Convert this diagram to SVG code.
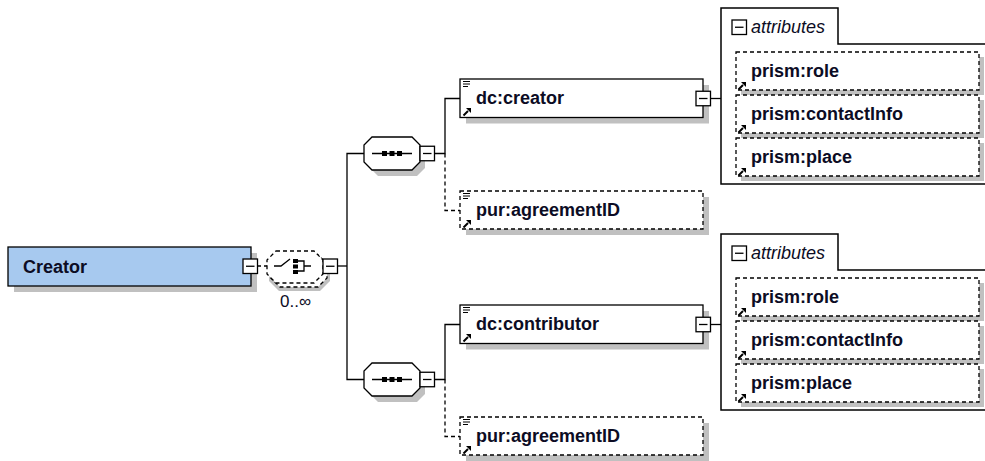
<svg xmlns="http://www.w3.org/2000/svg" xmlns:xlink="http://www.w3.org/1999/xlink" width="985" height="461" viewBox="0 0 985 461">
  <style>
    .lbl { font-family: "Liberation Sans", Arial, sans-serif; font-size: 18px; font-weight: bold; fill: #0c0c24; }
    .ital { font-family: "Liberation Sans", Arial, sans-serif; font-size: 18px; font-style: italic; fill: #0c0c24; }
    .occ { font-family: "Liberation Sans", Arial, sans-serif; font-size: 17px; fill: #0c0c24; }
    .box { fill: #ffffff; stroke: #000000; stroke-width: 1.3; }
    .opt { fill: #ffffff; stroke: #000000; stroke-width: 1.3; stroke-dasharray: 4 3; }
    .shadow { fill: #c0c0c0; stroke: none; }
    .wire { fill: none; stroke: #000000; stroke-width: 1.3; }
    .wire-opt { fill: none; stroke: #000000; stroke-width: 1.3; stroke-dasharray: 4 3; }
    .cont { fill: #ffffff; stroke: #000000; stroke-width: 1.5; }
  </style>
  <defs>
    <!-- collapse toggle -->
    <g id="minus">
      <rect x="0" y="0" width="14.5" height="14.5" fill="#ffffff" stroke="#000000" stroke-width="1.3"/>
      <line x1="3" y1="7.25" x2="11.5" y2="7.25" stroke="#000000" stroke-width="1.3"/>
    </g>
    <!-- reference arrow -->
    <g id="ref">
      <line x1="0.5" y1="7.5" x2="5" y2="3" stroke="#000000" stroke-width="2"/>
      <polygon points="3,0 8,0 8,5" fill="#000000"/>
    </g>
    <!-- annotation mark -->
    <g id="doc" stroke="#000000" stroke-width="1">
      <line x1="0" y1="0.5" x2="7" y2="0.5"/>
      <line x1="0" y1="3" x2="7" y2="3"/>
      <line x1="0" y1="5.5" x2="5" y2="5.5"/>
    </g>
    <!-- sequence compositor -->
    <g id="seq">
      <polygon class="shadow" points="14,6 53,6 61,14 61,31 53,39 14,39 6,31 6,14"/>
      <polygon points="8,0 48,0 56,8 56,25 48,33 8,33 0,25 0,8" fill="#ffffff" stroke="#000000" stroke-width="1.3"/>
      <line x1="8" y1="16.5" x2="48" y2="16.5" stroke="#000000" stroke-width="1.3"/>
      <rect x="18" y="14" width="5" height="5" fill="#000000"/>
      <rect x="25.5" y="14" width="5" height="5" fill="#000000"/>
      <rect x="33" y="14" width="5" height="5" fill="#000000"/>
      <use xlink:href="#minus" x="56" y="9.25"/>
    </g>
    <!-- attribute list container -->
    <g id="attrs">
      <path class="cont" d="M721,8 H838 V44 H990 V184 H721 Z"/>
      <use xlink:href="#minus" x="732" y="20"/>
      <text class="ital" x="751" y="33">attributes</text>
      <rect class="shadow" x="741" y="57" width="243" height="38"/>
      <rect class="opt" x="736" y="52" width="243" height="38"/>
      <use xlink:href="#ref" x="738" y="82"/>
      <text class="lbl" x="751" y="77">prism:role</text>
      <rect class="shadow" x="741" y="100" width="243" height="38"/>
      <rect class="opt" x="736" y="95" width="243" height="38"/>
      <use xlink:href="#ref" x="738" y="125"/>
      <text class="lbl" x="751" y="120">prism:contactInfo</text>
      <rect class="shadow" x="741" y="143" width="243" height="38"/>
      <rect class="opt" x="736" y="138" width="243" height="38"/>
      <use xlink:href="#ref" x="738" y="168"/>
      <text class="lbl" x="751" y="163">prism:place</text>
    </g>
  </defs>

  <!-- connectors -->
  <g id="connectors">
    <line class="wire-opt" x1="257" y1="266" x2="267" y2="266"/>
    <line class="wire" x1="337" y1="266" x2="347" y2="266"/>
    <path class="wire" d="M364,153.5 H347 V379.5 H364"/>
    <!-- first sequence -->
    <path class="wire" d="M434,153.5 H445 V98.5 H460"/>
    <path class="wire-opt" d="M445,153.5 V210.5 H460"/>
    <line class="wire" x1="710" y1="98.5" x2="721" y2="98.5"/>
    <!-- second sequence -->
    <path class="wire" d="M434,379.5 H445 V324.5 H460"/>
    <path class="wire-opt" d="M445,379.5 V436.5 H460"/>
    <line class="wire" x1="710" y1="324.5" x2="721" y2="324.5"/>
  </g>

  <!-- root element -->
  <g id="node-creator">
    <rect class="shadow" x="14" y="253" width="243" height="39"/>
    <rect x="8" y="247" width="243" height="39" fill="#a7c9ef" stroke="#000000" stroke-width="1.3"/>
    <text class="lbl" x="23" y="273">Creator</text>
    <use xlink:href="#minus" x="243" y="259"/>
  </g>

  <!-- choice compositor, 0..unbounded -->
  <g id="node-choice">
    <polygon class="shadow" points="279,257 320,257 330,267 330,281 320,291 279,291 269,281 269,267"/>
    <polygon class="opt" points="280,255 318,255 327,264 327,278 318,287 280,287 271,278 271,264"/>
    <polygon class="opt" points="276,251 314,251 323,260 323,274 314,283 276,283 267,274 267,260"/>
    <path d="M274,266 H281 L290,259" fill="none" stroke="#000000" stroke-width="1.3"/>
    <rect x="293" y="259" width="5" height="4" fill="#000000"/>
    <rect x="293" y="264.5" width="5" height="4" fill="#000000"/>
    <rect x="293" y="270" width="5" height="4" fill="#000000"/>
    <path d="M298,261 H304 V271 H298 M304,266 H311" fill="none" stroke="#000000" stroke-width="1.3"/>
    <use xlink:href="#minus" x="323" y="259"/>
    <text class="occ" x="280" y="307">0..∞</text>
  </g>

  <!-- upper sequence -->
  <g id="node-seq1">
    <use xlink:href="#seq" x="364" y="137"/>
  </g>

  <g id="node-dc-creator">
    <rect class="shadow" x="466" y="85" width="243" height="38.5"/>
    <rect class="box" x="460" y="79" width="243" height="38.5"/>
    <use xlink:href="#doc" x="463" y="81"/>
    <use xlink:href="#ref" x="463" y="108"/>
    <text class="lbl" x="476" y="104">dc:creator</text>
    <use xlink:href="#minus" x="696" y="91.25"/>
  </g>

  <g id="node-agreement1">
    <rect class="shadow" x="466" y="197" width="243" height="38"/>
    <rect class="opt" x="460" y="191" width="243" height="38"/>
    <use xlink:href="#doc" x="463" y="193"/>
    <use xlink:href="#ref" x="463" y="220"/>
    <text class="lbl" x="476" y="216">pur:agreementID</text>
  </g>

  <g id="node-attrs1">
    <use xlink:href="#attrs"/>
  </g>

  <!-- lower sequence -->
  <g id="node-seq2">
    <use xlink:href="#seq" x="364" y="363"/>
  </g>

  <g id="node-dc-contributor">
    <rect class="shadow" x="466" y="311" width="243" height="38.5"/>
    <rect class="box" x="460" y="305" width="243" height="38.5"/>
    <use xlink:href="#doc" x="463" y="307"/>
    <use xlink:href="#ref" x="463" y="334"/>
    <text class="lbl" x="476" y="330">dc:contributor</text>
    <use xlink:href="#minus" x="696" y="317.25"/>
  </g>

  <g id="node-agreement2">
    <rect class="shadow" x="466" y="423" width="243" height="38"/>
    <rect class="opt" x="460" y="417" width="243" height="38"/>
    <use xlink:href="#doc" x="463" y="419"/>
    <use xlink:href="#ref" x="463" y="446"/>
    <text class="lbl" x="476" y="442">pur:agreementID</text>
  </g>

  <g id="node-attrs2">
    <use xlink:href="#attrs" y="226"/>
  </g>
</svg>
